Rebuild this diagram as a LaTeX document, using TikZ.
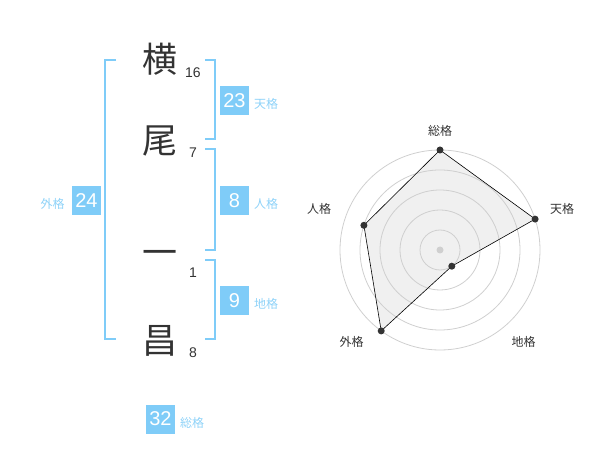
\documentclass[tikz,border=0pt]{standalone}
\usepackage{fontspec}
\setmainfont{Liberation Sans}
\newfontfamily\jp{Noto Sans CJK JP}
\definecolor{kblue}{HTML}{7FCCF8}
\definecolor{klab}{HTML}{8ED2F8}
\definecolor{kdark}{HTML}{333333}
\definecolor{ring}{HTML}{CFCFCF}
\begin{document}
\begin{tikzpicture}[x=1pt,y=-1pt,
  kanji/.style={font=\jp\fontsize{35}{35}\selectfont,text=kdark,inner sep=0pt},
  strokes/.style={font=\fontsize{14}{14}\selectfont,text=kdark,inner sep=0pt},
  valbox/.style={fill=kblue,text=white,minimum width=29pt,minimum height=29pt,inner sep=0pt,font=\fontsize{20}{20}\selectfont},
  lab/.style={text=klab,font=\jp\fontsize{12}{12}\selectfont,inner sep=0pt},
  brk/.style={draw=kblue,line width=2pt},
  rlab/.style={text=kdark,font=\jp\fontsize{12}{12}\selectfont,inner sep=0pt},
  dot/.style={circle,fill=kdark,inner sep=0pt,minimum size=7pt}]
\useasboundingbox (0,0) rectangle (600,470);
% kanji
\node[kanji] (k1) at (160,59) {横};
\node[kanji] (k2) at (160,141) {尾};
\node[kanji] (k3) at (160,258) {一};
\node[kanji] (k4) at (160,341) {昌};
\node[strokes] (s1) at (193,73) {16};
\node[strokes] (s2) at (193,153) {7};
\node[strokes] (s3) at (193,273) {1};
\node[strokes] (s4) at (193,353) {8};
% brackets
\draw[brk] (116,60) -- (105,60) -- (105,339.5) -- (116,339.5);
\draw[brk] (205,60) -- (214.5,60) -- (214.5,139.5) -- (205,139.5);
\draw[brk] (205,149.5) -- (214.5,149.5) -- (214.5,250) -- (205,250);
\draw[brk] (205,260) -- (214.5,260) -- (214.5,339.5) -- (205,339.5);
% value boxes
\node[valbox] (b23) at (234.5,100.5) {23};
\node[lab] (l23) at (266,103.5) {天格};
\node[valbox] (b8) at (234.5,200.5) {8};
\node[lab] (l8) at (266,203.5) {人格};
\node[valbox] (b24) at (86.5,200.5) {24};
\node[lab] (l24) at (52.5,203.5) {外格};
\node[valbox] (b9) at (234.5,300.5) {9};
\node[lab] (l9) at (266,303.5) {地格};
\node[valbox] (b32) at (160.5,419) {32};
\node[lab] (l32) at (192,422.5) {総格};
% radar
\coordinate (c) at (440,250);
\coordinate (p1) at (440,150);
\coordinate (p2) at (535.1,219.1);
\coordinate (p3) at (451.8,266.2);
\coordinate (p4) at (381.2,330.9);
\coordinate (p5) at (363.9,225.3);
\fill[black!6] (p1) -- (p2) -- (p3) -- (p4) -- (p5) -- cycle;
\foreach \r in {20,40,60,80,100} \draw[ring,line width=0.8pt] (c) circle[radius=\r];
\fill[ring] (c) circle[radius=3.5];
\draw[black,line width=0.6pt] (p1) -- (p2) -- (p3) -- (p4) -- (p5) -- cycle;
\foreach \p in {p1,p2,p3,p4,p5} \node[dot] at (\p) {};
\node[rlab] (r1) at (440,130.5) {総格};
\node[rlab] (r2) at (562,208.5) {天格};
\node[rlab] (r3) at (523.5,342) {地格};
\node[rlab] (r4) at (351.5,342) {外格};
\node[rlab] (r5) at (319,208.5) {人格};
\end{tikzpicture}
\end{document}
